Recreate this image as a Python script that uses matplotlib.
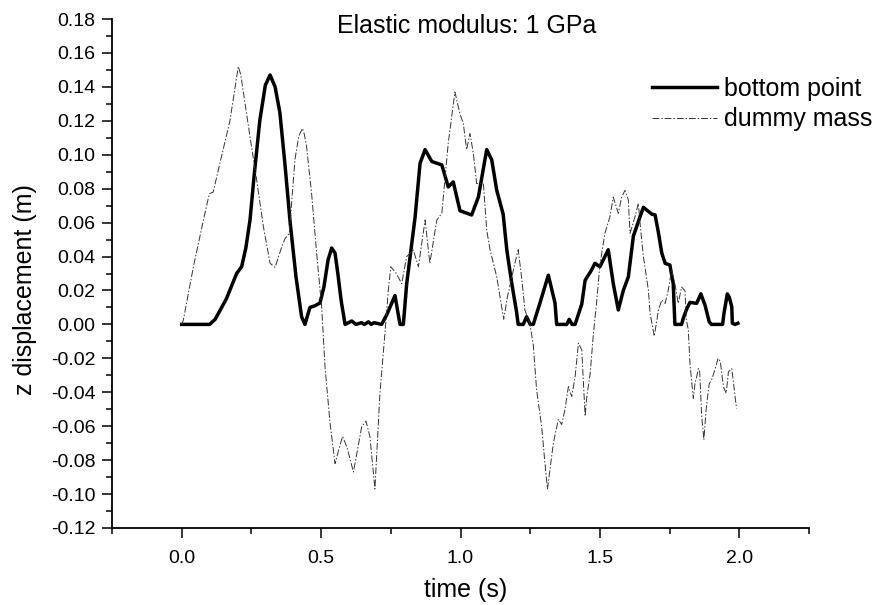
import matplotlib
matplotlib.use("Agg")
import matplotlib.pyplot as plt
from matplotlib.ticker import MultipleLocator, FormatStrFormatter

plt.rcParams['font.family'] = ['Liberation Sans', 'DejaVu Sans']
plt.rcParams['axes.unicode_minus'] = False

title = "Elastic modulus: 1 GPa"
xlabel = "time (s)"
ylabel = "z displacement (m)"
labels = ["bottom point", "dummy mass"]

t_bottom = [0, 0.1, 0.12, 0.16, 0.197, 0.215, 0.23, 0.245, 0.26, 0.28, 0.30, 0.317, 0.335, 0.352,
            0.37, 0.389, 0.41, 0.43, 0.442,
            0.46, 0.478, 0.496, 0.51, 0.525, 0.538, 0.55, 0.56, 0.572, 0.586, 0.61, 0.625, 0.645,
            0.655, 0.67, 0.68, 0.69, 0.717, 0.735, 0.765, 0.783, 0.795, 0.807, 0.837, 0.855,
            0.873, 0.897, 0.933, 0.956, 0.974, 0.998, 1.04, 1.064, 1.094, 1.112, 1.13, 1.153,
            1.166, 1.184, 1.2, 1.207, 1.225, 1.237, 1.25, 1.261, 1.285, 1.315, 1.339, 1.345,
            1.381, 1.39, 1.4, 1.411, 1.435, 1.447, 1.47, 1.482, 1.5, 1.53, 1.548, 1.566, 1.584,
            1.602, 1.62, 1.644, 1.656, 1.686, 1.698, 1.71, 1.722, 1.734, 1.751, 1.763, 1.769,
            1.793, 1.799, 1.81, 1.823, 1.847, 1.862, 1.877, 1.892, 1.90, 1.94, 1.945, 1.957,
            1.964, 1.973, 1.975, 1.985, 1.995]
z_bottom = [0, 0, 0.003, 0.015, 0.030, 0.034, 0.045, 0.0615, 0.088, 0.12, 0.141, 0.147, 0.140, 0.125,
            0.095, 0.06, 0.028, 0.0045, 0,
            0.010, 0.011, 0.0126, 0.022, 0.038, 0.045, 0.042, 0.030, 0.014, 0, 0.002, 0, 0.001,
            0, 0.0015, 0, 0.001, 0, 0.0055, 0.017, 0, 0, 0.024, 0.063, 0.095,
            0.103, 0.096, 0.094, 0.081, 0.084, 0.067, 0.0645, 0.075, 0.103, 0.097, 0.079, 0.065,
            0.044, 0.024, 0.0085, 0, 0, 0.0045, 0, 0, 0.0126, 0.029, 0.0126, 0,
            0, 0.003, 0, 0, 0.012, 0.026, 0.032, 0.036, 0.034, 0.044, 0.024, 0.0085, 0.020,
            0.028, 0.052, 0.0635, 0.069, 0.065, 0.0645, 0.054, 0.042, 0.036, 0.035, 0.024, 0,
            0, 0.0036, 0.0085, 0.013, 0.0124, 0.018, 0.0114, 0.0016, 0, 0, 0.0065, 0.018,
            0.016, 0.0104, 0.0007, 0, 0.0007]

t_dummy = [0, 0.006, 0.042, 0.078, 0.099, 0.113, 0.137, 0.173, 0.19, 0.203, 0.212, 0.221, 0.245,
           0.269, 0.293, 0.317, 0.335, 0.359, 0.371, 0.386, 0.406, 0.42, 0.433, 0.44, 0.448, 0.466,
           0.484, 0.502, 0.514, 0.532, 0.55, 0.563, 0.577, 0.592, 0.616, 0.646, 0.661, 0.675,
           0.693, 0.711, 0.729, 0.741, 0.75, 0.77, 0.789, 0.807, 0.831, 0.849, 0.873, 0.89,
           0.915, 0.933, 0.956, 0.98, 0.998, 1.01, 1.022, 1.034, 1.046, 1.058, 1.082, 1.094,
           1.106, 1.13, 1.155, 1.168, 1.195, 1.207, 1.219, 1.231, 1.249, 1.261, 1.273, 1.291,
           1.303, 1.312, 1.333, 1.351, 1.363, 1.375, 1.387, 1.399, 1.411, 1.423, 1.435, 1.447,
           1.453, 1.465, 1.477, 1.489, 1.5, 1.518, 1.536, 1.548, 1.566, 1.578, 1.59, 1.602,
           1.608, 1.626, 1.638, 1.644, 1.656, 1.674, 1.68, 1.695, 1.71, 1.722, 1.734, 1.745,
           1.757, 1.769, 1.781, 1.793, 1.805, 1.81, 1.817, 1.823, 1.835, 1.841, 1.847, 1.853,
           1.858, 1.865, 1.873, 1.881, 1.892, 1.90, 1.912, 1.924, 1.932, 1.943, 1.953, 1.961,
           1.973, 1.978, 1.985, 1.99]
z_dummy = [0, 0.0026, 0.034, 0.0615, 0.077, 0.078, 0.095, 0.12, 0.138, 0.152, 0.147, 0.137, 0.1106,
           0.085, 0.0576, 0.036, 0.0336, 0.0458, 0.0507, 0.0537, 0.097, 0.111, 0.1155, 0.112, 0.1047, 0.077,
           0.042, 0.0104, -0.025, -0.058, -0.082, -0.074, -0.066, -0.072, -0.087, -0.060, -0.057, -0.066,
           -0.097, -0.0406, -0.0053, 0.020, 0.034, 0.030, 0.024, 0.040, 0.0438, 0.034, 0.0615, 0.036,
           0.0615, 0.0655, 0.1067, 0.137, 0.124, 0.1185, 0.103, 0.1126, 0.1008, 0.083, 0.083, 0.0556,
           0.044, 0.028, 0.003, 0.016, 0.036, 0.044, 0.028, 0.0085, 0.0, -0.012, -0.0387, -0.060,
           -0.082, -0.097, -0.070, -0.056, -0.059, -0.050, -0.0367, -0.0426, -0.031, -0.011, -0.015, -0.054,
           -0.0426, -0.029, -0.005, 0.0144, 0.035, 0.0537, 0.0635, 0.075, 0.0655, 0.075, 0.079, 0.0733,
           0.0537, 0.0635, 0.0714, 0.0596, 0.040, 0.020, 0.0065, -0.007, 0.0085, 0.0144, 0.0124, 0.020,
           0.032, 0.024, 0.0124, 0.022, 0.020, 0.0026, -0.003, -0.023, -0.0436, -0.035, -0.031, -0.026,
           -0.028, -0.054, -0.068, -0.050, -0.035, -0.033, -0.027, -0.020, -0.022, -0.0367, -0.0406, -0.028,
           -0.026, -0.033, -0.0426, -0.0495]

W, H = 877, 605
fig = plt.figure(figsize=(W / 100, H / 100), dpi=100)
ax = fig.add_axes([112 / W, 1 - 528 / H, (809 - 112) / W, (528 - 19) / H])

l1, = ax.plot(t_bottom, z_bottom, color='black', lw=2.5, solid_joinstyle='round')
l2, = ax.plot(t_dummy, z_dummy, color='#333333', lw=0.7, dashes=(7, 2, 1.5, 2))

ax.set_xlim(-0.25, 2.25)
ax.set_ylim(-0.12, 0.18)
ax.xaxis.set_major_locator(MultipleLocator(0.5))
ax.xaxis.set_minor_locator(MultipleLocator(0.25))
ax.yaxis.set_major_locator(MultipleLocator(0.02))
ax.yaxis.set_minor_locator(MultipleLocator(0.01))
ax.xaxis.set_major_formatter(FormatStrFormatter('%.1f'))
ax.yaxis.set_major_formatter(FormatStrFormatter('%.2f'))

for s in ['top', 'right']:
    ax.spines[s].set_visible(False)
for s in ['left', 'bottom']:
    ax.spines[s].set_linewidth(1.3)
ax.tick_params(which='major', direction='out', length=7, width=1.1, labelsize=14, pad=5)
ax.tick_params(axis='x', which='major', pad=8.5)
ax.tick_params(which='minor', direction='out', length=4.5, width=1.1)

fig.text(467 / W, 1 - 33 / H, title, ha='center', va='baseline', fontsize=18)
fig.text(466 / W, 1 - 590 / H, xlabel, ha='center', va='center', fontsize=18)
fig.text(25 / W, 1 - 290 / H, ylabel, ha='center', va='center', rotation=90, fontsize=18)

leg = ax.legend([l1, l2], labels, loc='upper left',
                bbox_to_anchor=(652 / W, 1 - 77 / H), bbox_transform=fig.transFigure,
                frameon=False, fontsize=18, borderpad=0, borderaxespad=0,
                handlelength=2.6, handletextpad=0.28, labelspacing=0.25)

fig.savefig("out.png", dpi=100)
